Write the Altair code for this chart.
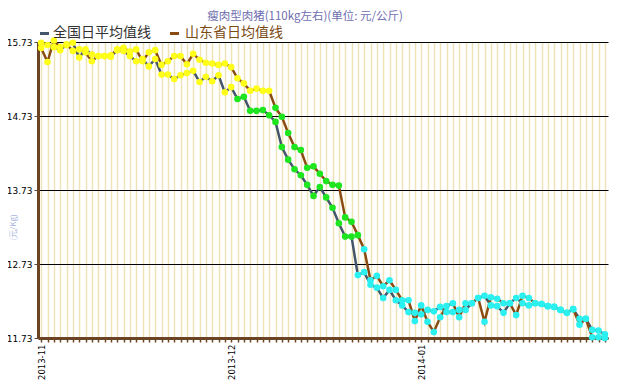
import altair as alt
import pandas as pd

# categories: trading days (one December day absent in the source axis)
dates = ([f"2013-11-{d:02d}" for d in range(1, 31)]
         + [f"2013-12-{d:02d}" for d in range(1, 32) if d != 29]
         + [f"2014-01-{d:02d}" for d in range(1, 31)])

national = [15.72, 15.69, 15.66, 15.62, 15.69, 15.72, 15.52, 15.63, 15.56, 15.54,
            15.54, 15.53, 15.62, 15.61, 15.54, 15.47, 15.50, 15.40, 15.50, 15.29,
            15.29, 15.23, 15.28, 15.31, 15.34, 15.19, 15.26, 15.20, 15.28, 15.05,
            15.12, 14.96, 14.99, 14.80, 14.80, 14.81, 14.74, 14.65, 14.31, 14.14,
            14.01, 13.93, 13.80, 13.65, 13.77, 13.63, 13.49, 13.28, 13.10, 13.10,
            12.58, 12.62, 12.45, 12.41, 12.27, 12.38, 12.24, 12.17, 12.08, 12.07,
            12.05, 12.11, 12.09, 12.15, 12.08, 12.08, 12.11, 12.11, 12.20, 12.27,
            12.30, 12.17, 12.16, 12.07, 12.20, 12.27, 12.20, 12.17, 12.20, 12.19,
            12.16, 12.15, 12.11, 12.07, 12.12, 11.99, 11.99, 11.84, 11.83, 11.78]

shandong = [15.65, 15.46, 15.75, 15.66, 15.70, 15.61, 15.63, 15.59, 15.47, 15.54,
            15.54, 15.55, 15.63, 15.65, 15.60, 15.63, 15.47, 15.59, 15.62, 15.42,
            15.47, 15.54, 15.54, 15.43, 15.57, 15.49, 15.45, 15.44, 15.42, 15.44,
            15.39, 15.24, 15.17, 15.07, 15.10, 15.07, 15.07, 14.84, 14.72, 14.50,
            14.31, 14.27, 14.03, 14.05, 13.95, 13.85, 13.80, 13.79, 13.36, 13.30,
            13.12, 12.93, 12.51, 12.57, 12.43, 12.51, 12.38, 12.24, 12.24, 11.96,
            12.17, 11.95, 11.81, 12.01, 12.16, 12.20, 12.01, 12.20, 12.20, 12.27,
            11.95, 12.28, 12.26, 12.20, 12.20, 12.04, 12.30, 12.27, 12.20, 12.19,
            12.16, 12.15, 12.11, 12.07, 12.12, 11.91, 11.99, 11.74, 11.74, 11.73]

series_names = ["全国日平均值线", "山东省日均值线"]
series_colors = ["#44566a", "#8a4b12"]
y_ticks = [11.73, 12.73, 13.73, 14.73, 15.73]
band_names = ["hi", "mid", "lo"]
band_colors = ["#ffff1a", "#1ee61e", "#2af0f0"]
title_text = "瘦肉型肉猪(110kg左右)(单位: 元/公斤)"

df = pd.DataFrame({
    "date": dates * 2,
    "series": [series_names[0]] * len(dates) + [series_names[1]] * len(dates),
    "value": national + shandong,
})

brown_axis = "#6b4423"

x_enc = alt.X(
    "date:O", sort=None,
    scale=alt.Scale(type="point", padding=0.5),
    axis=alt.Axis(
        title=None,
        labelExpr="slice(datum.value, 8) == '01' ? slice(datum.value, 0, 7) : ''",
        labelAngle=270, labelFontSize=8.5, labelFont="DejaVu Sans", labelColor="#000000",
        labelOverlap=False, labelPadding=2,
        tickColor=brown_axis, tickWidth=1.5, tickSize=4,
        domainColor=brown_axis, domainWidth=3,
        grid=True, gridColor="#eee2b8", gridWidth=1.5,
    ),
)
y_enc = alt.Y(
    "value:Q",
    scale=alt.Scale(domain=[11.73, 15.73], nice=False, zero=False),
    axis=alt.Axis(
        values=y_ticks, format=".2f",
        labelFontSize=9, labelFont="DejaVu Sans", labelColor="#000000", labelPadding=2,
        grid=True, gridColor="#000000", gridWidth=1,
        domainColor=brown_axis, domainWidth=3,
        tickColor="#5a4a3a", tickSize=4,
        title="(元/Kg)", titleColor="#aab6e0", titleFontSize=8, titleFontWeight="normal",
        titleFont="Noto Sans CJK SC",
        titleX=-21, titleY=185, titleAngle=270,
    ),
)

base = alt.Chart(df)

lines = base.mark_line(strokeWidth=2.5).encode(
    x=x_enc, y=y_enc,
    color=alt.Color("series:N", scale=alt.Scale(domain=series_names, range=series_colors), legend=None),
    detail="series:N",
)

points = base.transform_calculate(
    band="datum.value >= 15 ? 'hi' : (datum.value >= 13 ? 'mid' : 'lo')"
).mark_circle(size=44, opacity=1).encode(
    x=x_enc, y=y_enc,
    color=alt.Color("band:N", scale=alt.Scale(domain=band_names, range=band_colors), legend=None),
)

data_layers = alt.layer(lines, points).resolve_scale(color="independent")

title_mark = alt.Chart(pd.DataFrame({"t": [title_text]})).mark_text(
    align="center", baseline="middle", fontSize=11.5, font="Noto Sans CJK SC", color="#6e6eb0"
).encode(x=alt.value(267), y=alt.value(-25), text="t:N")

leg1_rule = alt.Chart(pd.DataFrame({"t": [series_names[0]]})).mark_rule(
    color=series_colors[0], strokeWidth=3
).encode(x=alt.value(2), x2=alt.value(11), y=alt.value(-8.5))
leg1_text = alt.Chart(pd.DataFrame({"t": [series_names[0]]})).mark_text(
    align="left", baseline="middle", fontSize=14, font="Noto Sans CJK SC", color="#333333"
).encode(x=alt.value(15), y=alt.value(-9), text="t:N")
leg2_rule = alt.Chart(pd.DataFrame({"t": [series_names[1]]})).mark_rule(
    color=series_colors[1], strokeWidth=3
).encode(x=alt.value(132), x2=alt.value(141), y=alt.value(-8.5))
leg2_text = alt.Chart(pd.DataFrame({"t": [series_names[1]]})).mark_text(
    align="left", baseline="middle", fontSize=14, font="Noto Sans CJK SC", color="#7b4b14"
).encode(x=alt.value(147), y=alt.value(-9), text="t:N")

chart = alt.layer(
    data_layers, title_mark, leg1_rule, leg1_text, leg2_rule, leg2_text
).resolve_scale(color="independent").properties(
    width=570, height=296,
    autosize=alt.AutoSizeParams(type="none"),
    padding={"left": 30, "top": 34, "right": 3, "bottom": 46},
    background="white",
).configure_view(stroke=None)

chart.save("out.html", embed_options={"renderer": "svg", "actions": False})
